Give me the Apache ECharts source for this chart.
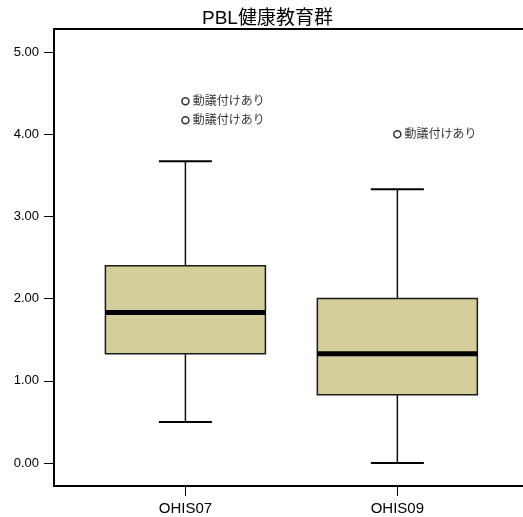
<!DOCTYPE html>
<html>
<head>
<meta charset="utf-8">
<script src="https://cdn.jsdelivr.net/npm/echarts@6/dist/echarts.min.js"></script>
<style>
  html, body { margin: 0; padding: 0; background: #fff; }
  #chart { width: 523px; height: 517px; }
</style>
</head>
<body>
<div id="chart"></div>
<script>
// Box summary for each variable (min whisker, Q1, median, Q3, max whisker)
var categories = ['OHIS07', 'OHIS09'];
var whiskerLow  = [0.50, 0.00];
var q1          = [1.33, 0.83];
var medians     = [1.83, 1.33];
var q3          = [2.40, 2.00];
var whiskerHigh = [3.67, 3.33];

// Outlying cases: which variable they belong to, and their value
var outlierCat   = [0, 0, 1];
var outlierVal   = [4.40, 4.17, 4.00];
var outlierLabel = ['動議付けあり', '動議付けあり', '動議付けあり'];

var yTicks = [0, 1, 2, 3, 4, 5];

var FONT = '"Liberation Sans", Arial, "Noto Sans CJK JP", sans-serif';
var BOX_HALF = 80;
var CAP_HALF = 26.5;

var boxData = categories.map(function (c, i) {
  return [i + 1, whiskerLow[i], q1[i], medians[i], q3[i], whiskerHigh[i]];
});
var outlierData = outlierCat.map(function (c, i) {
  return { value: [c + 1, outlierVal[i]], label: { formatter: outlierLabel[i] } };
});

var chart = echarts.init(document.getElementById('chart'), null, { renderer: 'canvas' });

chart.setOption({
  animation: false,
  backgroundColor: '#fff',
  title: {
    text: 'PBL健康教育群',
    left: 202,
    top: 9,
    padding: 0,
    textStyle: { fontFamily: FONT, fontSize: 19, fontWeight: 'normal', color: '#000' }
  },
  grid: {
    left: 54, right: -10, top: 29, bottom: 31,
    show: true, borderColor: '#000', borderWidth: 2,
    outerBoundsMode: 'none'
  },
  xAxis: {
    type: 'value',
    min: 0.38,
    max: 2.64,
    splitLine: { show: false },
    axisLine: { show: true, onZero: false, lineStyle: { color: '#000', width: 2 } },
    axisTick: { show: true, length: 10, customValues: [1, 2], lineStyle: { color: '#000', width: 1 } },
    axisLabel: {
      customValues: [1, 2],
      margin: 15,
      fontFamily: FONT, fontSize: 15, color: '#000',
      formatter: function (v) { return categories[Math.round(v) - 1] || ''; }
    }
  },
  yAxis: {
    type: 'value',
    min: -0.28,
    max: 5.28,
    splitLine: { show: false },
    axisLine: { show: true, onZero: false, lineStyle: { color: '#000', width: 2 } },
    axisTick: { show: true, length: 10, customValues: yTicks, lineStyle: { color: '#000', width: 1 } },
    axisLabel: {
      customValues: yTicks,
      margin: 15,
      fontFamily: FONT, fontSize: 13, color: '#000',
      formatter: function (v) { return v.toFixed(2); }
    }
  },
  series: [
    {
      type: 'custom',
      data: boxData,
      renderItem: function (params, api) {
        var x = api.value(0);
        var pMin = api.coord([x, api.value(1)]);
        var pQ1 = api.coord([x, api.value(2)]);
        var pMed = api.coord([x, api.value(3)]);
        var pQ3 = api.coord([x, api.value(4)]);
        var pMax = api.coord([x, api.value(5)]);
        var cx = pMed[0];
        var whisker = { stroke: '#111', lineWidth: 1.5 };
        var cap = { stroke: '#000', lineWidth: 2 };
        return {
          type: 'group',
          children: [
            { type: 'line', shape: { x1: cx, y1: pQ3[1], x2: cx, y2: pMax[1] }, style: whisker },
            { type: 'line', shape: { x1: cx, y1: pQ1[1], x2: cx, y2: pMin[1] }, style: whisker },
            { type: 'line', shape: { x1: cx - CAP_HALF, y1: pMax[1], x2: cx + CAP_HALF, y2: pMax[1] }, style: cap },
            { type: 'line', shape: { x1: cx - CAP_HALF, y1: pMin[1], x2: cx + CAP_HALF, y2: pMin[1] }, style: cap },
            {
              type: 'rect',
              shape: { x: cx - BOX_HALF, y: pQ3[1], width: BOX_HALF * 2, height: pQ1[1] - pQ3[1] },
              style: { fill: '#d3ce9a', stroke: '#1a1a1a', lineWidth: 1.5 }
            },
            { type: 'line', shape: { x1: cx - BOX_HALF, y1: pMed[1], x2: cx + BOX_HALF, y2: pMed[1] }, style: { stroke: '#000', lineWidth: 5 } }
          ]
        };
      }
    },
    {
      type: 'scatter',
      data: outlierData,
      symbol: 'circle',
      symbolSize: 7,
      itemStyle: { color: '#fff', borderColor: '#000', borderWidth: 1.5 },
      label: {
        show: true,
        position: 'right',
        distance: 3,
        fontFamily: FONT,
        fontSize: 12,
        color: '#000'
      }
    }
  ]
});
</script>
</body>
</html>
